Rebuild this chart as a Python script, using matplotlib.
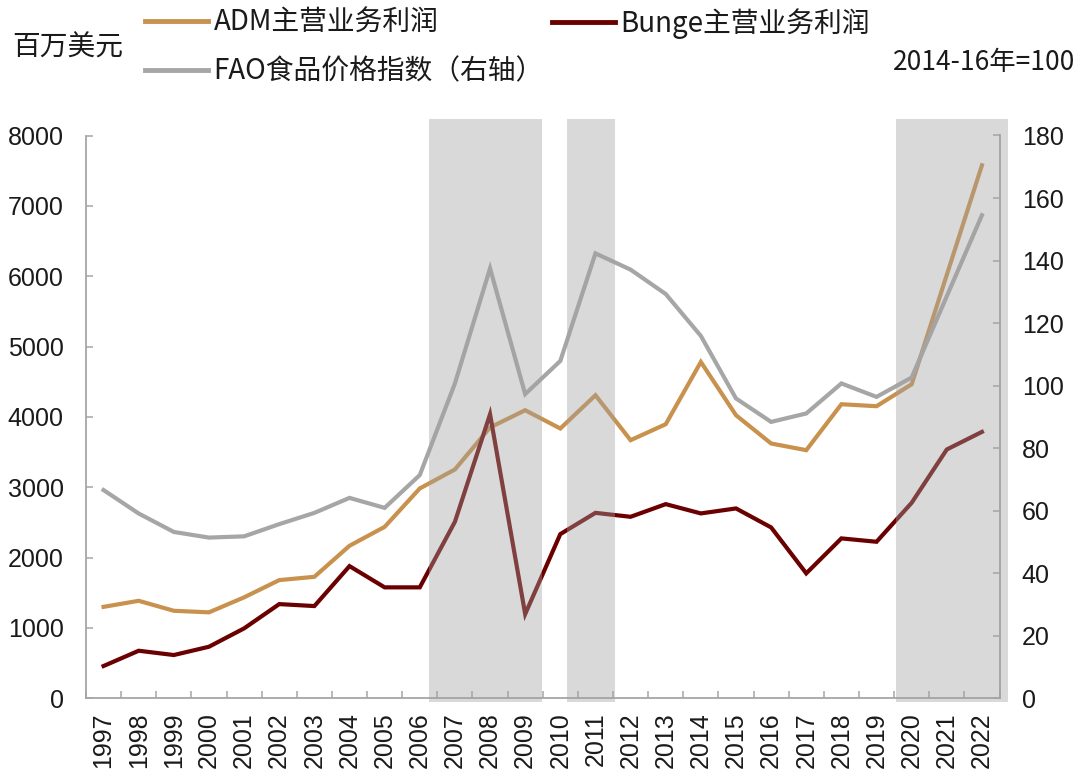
import matplotlib
matplotlib.use("Agg")
import matplotlib.pyplot as plt
from matplotlib.lines import Line2D
import numpy as np

# ---------------- data ----------------
years = ['1997', '1998', '1999', '2000', '2001', '2002', '2003', '2004', '2005',
         '2006', '2007', '2008', '2009', '2010', '2011', '2012', '2013', '2014',
         '2015', '2016', '2017', '2018', '2019', '2020', '2021', '2022']
adm = [1300, 1386, 1244, 1222, 1435, 1680, 1727, 2168, 2437, 2983, 3253, 3850,
       4095, 3835, 4308, 3669, 3896, 4781, 4024, 3622, 3527, 4180, 4152, 4464,
       6020, 7576]
bunge = [459, 676, 615, 733, 994, 1339, 1311, 1879, 1577, 1577, 2509, 4038,
         1197, 2334, 2636, 2580, 2760, 2628, 2699, 2429, 1776, 2273, 2225, 2779,
         3537, 3787]
fao = [66.6, 59.1, 53.2, 51.4, 51.8, 55.7, 59.3, 64.1, 60.9, 71.4, 100.7, 137.5,
       97.3, 107.9, 142.3, 137.1, 129.3, 115.9, 95.9, 88.4, 91.1, 100.7, 96.4,
       102.6, 128.6, 154.5]
# shaded periods (in category units, 0 = 1997)
shade_start = [9.27, 13.20, 22.56]
shade_end = [12.47, 14.56, 25.73]

left_ticks = [0, 1000, 2000, 3000, 4000, 5000, 6000, 7000, 8000]
right_ticks = [0, 20, 40, 60, 80, 100, 120, 140, 160, 180]

label_adm = 'ADM主营业务利润'
label_bunge = 'Bunge主营业务利润'
label_fao = 'FAO食品价格指数（右轴）'

# ---------------- style ----------------
c_adm = '#C8924E'
c_bunge = '#6B0000'
c_fao = '#A6A6A6'
c_spine = '#A6A6A6'
c_text = '#1A1A1A'
num_font = ['Liberation Sans', 'DejaVu Sans']
cjk_font = ['Noto Sans CJK SC', 'DejaVu Sans']

fig = plt.figure(figsize=(10.81, 7.73), dpi=100)
L, R, B, T = 86 / 1081, 999.5 / 1081, 1 - 698.3 / 773, 1 - 135.5 / 773
ax = fig.add_axes([L, B, R - L, T - B])
ax2 = ax.twinx()

x = np.arange(len(years))
lw = 3.0
ax.plot(x, adm, color=c_adm, lw=lw, solid_joinstyle='miter', zorder=2)
ax.plot(x, bunge, color=c_bunge, lw=lw, solid_joinstyle='miter', zorder=2)
ax2.plot(x, fao, color=c_fao, lw=lw, solid_joinstyle='miter', zorder=2)

for s, e in zip(shade_start, shade_end):
    ax2.axvspan(s, e, ymin=-0.007, ymax=1.029, facecolor=(0.63, 0.63, 0.63),
                alpha=0.40, edgecolor='none', zorder=5, clip_on=False)

ax.set_xlim(-0.5, len(years) - 0.5)
ax.set_ylim(0, 8000)
ax2.set_ylim(0, 180)

# spines
for a in (ax, ax2):
    a.spines['top'].set_visible(False)
ax.spines['right'].set_visible(False)
ax2.spines['left'].set_visible(False)
ax2.spines['bottom'].set_visible(False)
for sp in ('left', 'bottom'):
    ax.spines[sp].set_color(c_spine)
    ax.spines[sp].set_linewidth(1.3)
ax2.spines['right'].set_color(c_spine)
ax2.spines['right'].set_linewidth(1.3)

# ticks
ax.set_yticks(left_ticks)
ax.set_yticklabels([str(v) for v in left_ticks], fontfamily=num_font,
                   fontsize=18, color=c_text)
ax2.set_yticks(right_ticks)
ax2.set_yticklabels([str(v) for v in right_ticks], fontfamily=num_font,
                    fontsize=18, color=c_text)
ax.tick_params(axis='y', direction='in', length=5, width=1.1, color=c_spine, pad=16)
ax2.tick_params(axis='y', direction='in', length=5, width=1.1, color=c_spine, pad=16)

ax.set_xticks(x)
ax.set_xticklabels(years, rotation=90, fontfamily=num_font, fontsize=18, color=c_text)
ax.set_xticks(np.arange(-0.5, len(years), 1.0), minor=True)
ax.tick_params(axis='x', which='major', length=0, pad=10)
ax.tick_params(axis='x', which='minor', direction='in', length=5, width=1.1, color=c_spine)

# legends
h_adm = Line2D([], [], color=c_adm, lw=3.5)
h_bunge = Line2D([], [], color=c_bunge, lw=3.5)
h_fao = Line2D([], [], color=c_fao, lw=3.5)
leg_kw = dict(loc='upper left', frameon=False, borderpad=0, borderaxespad=0,
              handlelength=2.25, handletextpad=0.22, labelspacing=0.66,
              prop={'family': cjk_font, 'size': 20}, labelcolor=c_text)
fig.legend([h_adm, h_fao], [label_adm, label_fao],
           bbox_to_anchor=(145 / 1081, 1 - 8 / 773), **leg_kw)
fig.legend([h_bunge], [label_bunge],
           bbox_to_anchor=(552 / 1081, 1 - 8 / 773), **leg_kw)

fig.text(12 / 1081, 1 - 48 / 773, '百万美元', fontfamily=cjk_font, fontsize=20,
         color=c_text, ha='left', va='center')
fig.text(1075 / 1081, 1 - 62 / 773, '2014-16年=100', fontfamily=cjk_font,
         fontsize=19, color=c_text, ha='right', va='center')

fig.savefig('out.png', dpi=100)
